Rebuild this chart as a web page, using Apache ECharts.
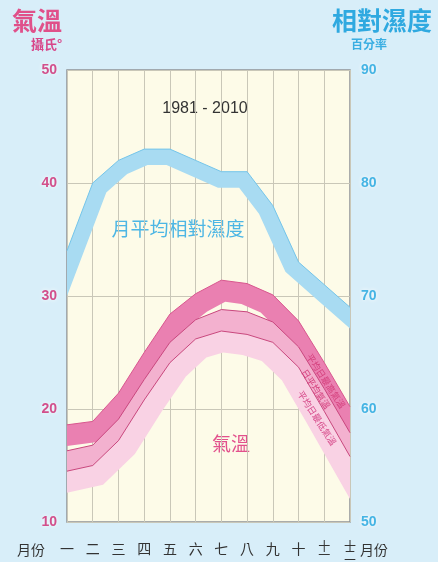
<!DOCTYPE html>
<html><head><meta charset="utf-8">
<script src="https://cdn.jsdelivr.net/npm/echarts@6/dist/echarts.min.js"></script>
<style>html,body{margin:0;padding:0;background:#d8eef9;}#c{width:438px;height:562px;}</style>
</head><body><div id="c"></div>
<script>
const months = ['一','二','三','四','五','六','七','八','九','十','十一','十二'];
const humidity = [74, 80, 82, 83, 83, 82, 81, 81, 78, 73, 71, 69];
const tempMax  = [18.6, 18.9, 21.4, 25.0, 28.4, 30.2, 31.4, 31.1, 30.1, 27.8, 24.1, 20.2];
const tempMean = [16.3, 16.8, 19.1, 22.6, 25.9, 27.9, 28.8, 28.6, 27.7, 25.5, 21.8, 17.9];
const tempMin  = [14.5, 15.0, 17.2, 20.8, 24.1, 26.2, 26.9, 26.6, 25.9, 23.7, 19.8, 15.8];
const tempTicks = [10, 20, 30, 40, 50];
const humTicks = [50, 60, 70, 80, 90];

const CJK = '"Noto Sans CJK TC","Noto Sans CJK SC",sans-serif';
const SANS = '"Liberation Sans",Arial,sans-serif';

function offsetLine(pts, d) {
  const n = pts.length, normals = [], dirs = [];
  for (let i = 0; i < n - 1; i++) {
    const dx = pts[i+1][0] - pts[i][0], dy = pts[i+1][1] - pts[i][1];
    const L = Math.hypot(dx, dy);
    normals.push([-dy / L, dx / L]);
    dirs.push([dx / L, dy / L]);
  }
  const out = [];
  for (let i = 0; i < n; i++) {
    const P = pts[i];
    if (i === 0 || i === n - 1) {
      const k = i === 0 ? 0 : n - 2;
      const nm = normals[k], dr = dirs[k];
      const Q = [P[0] + d * nm[0], P[1] + d * nm[1]];
      const t = (P[0] - Q[0]) / dr[0];
      out.push([P[0], Q[1] + t * dr[1]]);
    } else {
      const a = normals[i-1], b = normals[i];
      let mx = a[0] + b[0], my = a[1] + b[1];
      const ml = Math.hypot(mx, my); mx /= ml; my /= ml;
      const s = d / (mx * a[0] + my * a[1]);
      out.push([P[0] + mx * s, P[1] + my * s]);
    }
  }
  return out;
}

function bandSeries(arr, thick, color, yIdx, z) {
  return {
    type: 'custom', yAxisIndex: yIdx, z: z, silent: true,
    data: [[0, arr[0]]],
    renderItem: function (params, api) {
      const pts = arr.map((v, i) => api.coord([i, v]));
      const off = offsetLine(pts, thick).reverse();
      return { type: 'polygon', shape: { points: pts.concat(off) }, style: { fill: color } };
    }
  };
}
function betweenSeries(top, bot, color, z) {
  return {
    type: 'custom', yAxisIndex: 0, z: z, silent: true,
    data: [[0, top[0]]],
    renderItem: function (params, api) {
      const a = top.map((v, i) => api.coord([i, v]));
      const b = bot.map((v, i) => api.coord([i, v])).reverse();
      return { type: 'polygon', shape: { points: a.concat(b) }, style: { fill: color } };
    }
  };
}
function lineSeries(arr, color, yIdx, z) {
  return { type: 'line', data: arr, yAxisIndex: yIdx, z: z, symbol: 'none', silent: true,
    lineStyle: { color: color, width: 1 } };
}

const chart = echarts.init(document.getElementById('c'), null, { renderer: 'canvas' });
chart.setOption({
  backgroundColor: '#d8eef9',
  animation: false,
  grid: { left: 67, right: 88, top: 70, bottom: 40, show: true, backgroundColor: '#fdfbe8',
          borderColor: '#8e9397', borderWidth: 1.5 },
  xAxis: {
    type: 'category', data: months, boundaryGap: false,
    axisLine: { show: false }, axisTick: { show: false },
    splitLine: { show: true, lineStyle: { color: '#c9c7b8', width: 1 } },
    axisLabel: {
      interval: 0, margin: 20, color: '#333', fontSize: 14, fontFamily: CJK, lineHeight: 14,
      formatter: v => v.length === 2 ? '{s|' + v[0] + '}\n{s|' + v[1] + '}' : v,
      rich: { s: { fontSize: 12, lineHeight: 9, color: '#333', fontFamily: CJK } }
    }
  },
  yAxis: [
    { type: 'value', min: tempTicks[0], max: tempTicks[tempTicks.length-1], interval: 10,
      axisLine: { show: false }, axisTick: { show: false },
      splitLine: { show: true, lineStyle: { color: '#c9c7b8', width: 1 } },
      axisLabel: { margin: 10, color: '#d24f8b', fontSize: 14, fontWeight: 'bold', fontFamily: SANS,
        textShadowColor: '#ffffff', textShadowBlur: 4 } },
    { type: 'value', min: humTicks[0], max: humTicks[humTicks.length-1], interval: 10, position: 'right',
      axisLine: { show: false }, axisTick: { show: false }, splitLine: { show: false },
      axisLabel: { margin: 11, color: '#45b4e4', fontSize: 14, fontWeight: 'bold', fontFamily: SANS,
        textShadowColor: '#ffffff', textShadowBlur: 4 } }
  ],
  series: [
    bandSeries(humidity, 16, '#a8dbf2', 1, 2),
    bandSeries(tempMin, 21, '#f9d2e4', 0, 2),
    bandSeries(tempMax, 21, '#ea80b1', 0, 3),
    betweenSeries(tempMean, tempMin, '#f3b1cf', 4),
    lineSeries(humidity, '#74c5ea', 1, 5),
    lineSeries(tempMax, '#d9578f', 0, 5),
    lineSeries(tempMean, '#c9477e', 0, 5),
    lineSeries(tempMin, '#c9477e', 0, 5)
  ],
  graphic: [
    { type: 'text', left: 12, top: 8, style: { text: '氣溫', font: 'bold 25px ' + CJK, fill: '#e0508a' } },
    { type: 'text', left: 31, top: 38, style: { text: '攝氏°', font: 'bold 13px ' + CJK, fill: '#d8468a' } },
    { type: 'text', right: 6, top: 8, style: { text: '相對濕度', font: 'bold 25px ' + CJK, fill: '#2fa9e0' } },
    { type: 'text', left: 351, top: 38, style: { text: '百分率', font: 'bold 12px ' + CJK, fill: '#3aaee2' } },
    { type: 'text', x: 205, y: 109, style: { text: '1981 - 2010', font: '16px ' + SANS, fill: '#333', align: 'center', verticalAlign: 'middle' } },
    { type: 'text', x: 178, y: 229, style: { text: '月平均相對濕度', font: '19px ' + CJK, fill: '#4db6e4', align: 'center', verticalAlign: 'middle' } },
    { type: 'text', x: 231, y: 444, style: { text: '氣溫', font: '19px ' + CJK, fill: '#e2508c', align: 'center', verticalAlign: 'middle' } },
    { type: 'text', x: 31, y: 550, style: { text: '月份', font: '14px ' + CJK, fill: '#333', align: 'center', verticalAlign: 'middle' } },
    { type: 'text', x: 374, y: 550, style: { text: '月份', font: '14px ' + CJK, fill: '#333', align: 'center', verticalAlign: 'middle' } },
    { type: 'text', x: 326, y: 381, rotation: -57 * Math.PI / 180, z: 10, style: { text: '平均日最高氣溫', font: '9px ' + CJK, fill: '#d43f7c', align: 'center', verticalAlign: 'middle' } },
    { type: 'text', x: 316, y: 389, rotation: -57 * Math.PI / 180, z: 10, style: { text: '日平均氣溫', font: '9px ' + CJK, fill: '#d43f7c', align: 'center', verticalAlign: 'middle' } },
    { type: 'text', x: 317, y: 418, rotation: -57 * Math.PI / 180, z: 10, style: { text: '平均日最低氣溫', font: '9px ' + CJK, fill: '#d64a8a', align: 'center', verticalAlign: 'middle' } }
  ]
});
</script></body></html>
